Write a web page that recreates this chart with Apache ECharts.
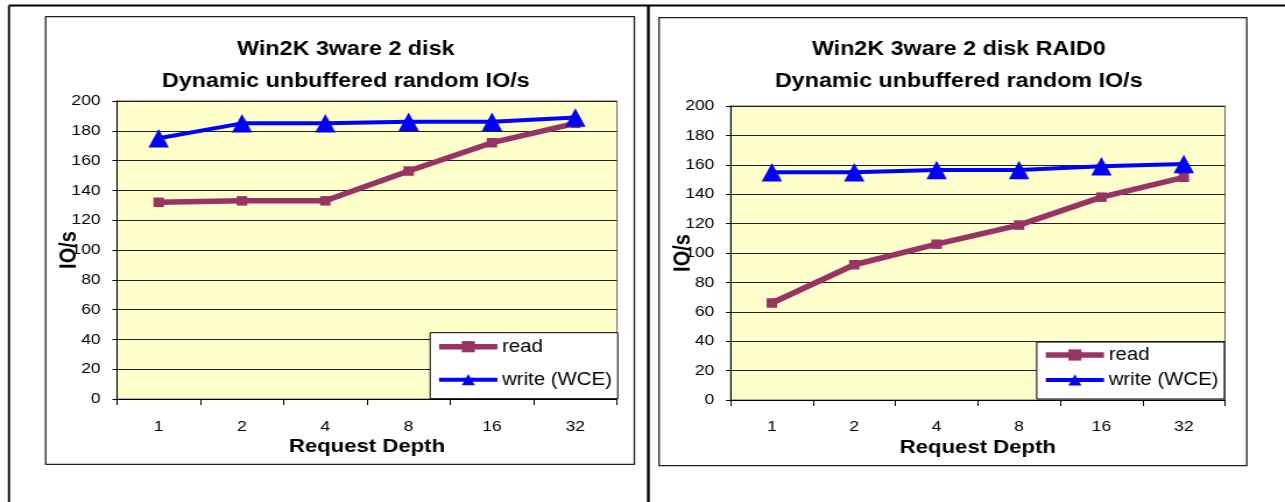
<!DOCTYPE html>
<html>
<head>
<meta charset="utf-8">
<script src="https://cdn.jsdelivr.net/npm/echarts@6/dist/echarts.min.js"></script>
<style>
html,body{margin:0;padding:0;background:#fff;overflow:hidden;}
#wrap{width:1285px;height:502px;overflow:hidden;position:relative;}
#chart{position:absolute;left:0;top:0;width:1103px;height:502px;transform:scaleX(1.165);transform-origin:0 0;}
</style>
</head>
<body>
<div id="wrap"><div id="chart"></div></div>
<script>
// ---- data ----
const categories = ['1', '2', '4', '8', '16', '32'];
const readA  = [132, 133, 133, 153, 172, 185];
const writeA = [175, 185, 185, 186, 186, 189];
const readB  = [66, 92, 106, 119, 138, 151.5];
const writeB = [155, 155, 156.5, 156.5, 159, 160.5];
const yTicks = [0, 200, 20]; // min, max, interval
const titleA = 'Win2K 3ware 2 disk\nDynamic unbuffered random IO/s';
const titleB = 'Win2K 3ware 2 disk RAID0\nDynamic unbuffered random IO/s';
const seriesNames = ['read', 'write (WCE)'];
const xName = 'Request Depth';
const yName = 'IO/s';

const FONT = 'Liberation Sans, Arial, sans-serif';
const READ_C = '#993366';
const WRITE_C = '#0000FF';

const chart = echarts.init(document.getElementById('chart'), null, {renderer: 'canvas'});

function xAxisCfg(gi) {
  return {
    type: 'category', gridIndex: gi, data: categories, boundaryGap: true,
    name: xName, nameLocation: 'middle', nameGap: 38, nameMoveOverlap: false,
    nameTextStyle: {fontFamily: FONT, fontSize: 19, fontWeight: 'bold', color: '#000'},
    axisLine: {show: true, lineStyle: {color: '#000', width: 1}},
    axisTick: {show: true, length: 6, lineStyle: {color: '#000'}},
    axisLabel: {fontFamily: FONT, fontSize: 15, color: '#000', margin: gi === 0 ? 20.5 : 19.5},
    splitLine: {show: false}
  };
}
function yAxisCfg(gi) {
  return {
    type: 'value', gridIndex: gi, min: yTicks[0], max: yTicks[1], interval: yTicks[2],
    name: yName, nameLocation: 'middle', nameGap: 31, nameRotate: 90, nameMoveOverlap: false,
    nameTextStyle: {fontFamily: FONT, fontSize: 20, fontWeight: 'bold', color: '#000'},
    axisLine: {show: true, lineStyle: {color: '#000', width: 1}},
    axisTick: {show: true, length: 4, lineStyle: {color: '#000'}},
    axisLabel: {fontFamily: FONT, fontSize: 15, color: '#000', margin: 14},
    splitLine: {show: true, lineStyle: {color: '#222', width: 1}}
  };
}
function readSeries(gi, data) {
  return {
    name: seriesNames[0], type: 'line', xAxisIndex: gi, yAxisIndex: gi, data: data,
    symbol: 'rect', symbolSize: [9, 9.5],
    lineStyle: {color: READ_C, width: 5.5}, itemStyle: {color: READ_C},
    z: 2, animation: false
  };
}
function writeSeries(gi, data) {
  return {
    name: seriesNames[1], type: 'line', xAxisIndex: gi, yAxisIndex: gi, data: data,
    symbol: 'triangle', symbolSize: [17.5, 18.5],
    lineStyle: {color: WRITE_C, width: 4}, itemStyle: {color: WRITE_C},
    z: 3, animation: false
  };
}
function legendCfg(left, top, gap, padding) {
  return {
    orient: 'vertical', left: left, top: top,
    data: [
      {name: seriesNames[0], lineStyle: {width: 5.5, color: READ_C}},
      {name: seriesNames[1], lineStyle: {width: 4, color: WRITE_C}}
    ],
    backgroundColor: '#fff', borderColor: '#000', borderWidth: 1,
    padding: padding, itemGap: gap, itemWidth: 50, itemHeight: 14,
    textStyle: {fontFamily: FONT, fontSize: 17.5, color: '#000', padding: [0, 0, 0, -1]},
    selectedMode: false
  };
}

const option = {
  animation: false,
  backgroundColor: '#fff',
  title: [
    {text: titleA, left: 291.85, top: 29, textAlign: 'center',
     textStyle: {fontFamily: FONT, fontSize: 20, fontWeight: 'bold', color: '#000', lineHeight: 31.4}},
    {text: titleB, left: 817.95, top: 29, textAlign: 'center',
     textStyle: {fontFamily: FONT, fontSize: 20, fontWeight: 'bold', color: '#000', lineHeight: 31.4}}
  ],
  grid: [
    {left: 100.4, top: 101, width: 429.2, height: 298, show: true, backgroundColor: '#FFFFCC', borderColor: '#666', borderWidth: 1},
    {left: 627.2, top: 106, width: 424.3, height: 294, show: true, backgroundColor: '#FFFFCC', borderColor: '#666', borderWidth: 1}
  ],
  xAxis: [xAxisCfg(0), xAxisCfg(1)],
  yAxis: [yAxisCfg(0), yAxisCfg(1)],
  legend: [
    legendCfg(369.2, 332.7, 15, [5, 5, 10, 5]),
    legendCfg(889.9, 342, 7, [4, 5, 10, 5])
  ],
  series: [readSeries(0, readA), writeSeries(0, writeA), readSeries(1, readB), writeSeries(1, writeB)],
  graphic: [
    {type: 'line', shape: {x1: 7.7, y1: 5.5, x2: 1103, y2: 5.5}, style: {stroke: '#000', lineWidth: 2.2}, silent: true},
    {type: 'line', shape: {x1: 7.7, y1: 5.5, x2: 7.7, y2: 502}, style: {stroke: '#000', lineWidth: 1.8}, silent: true},
    {type: 'line', shape: {x1: 556.5, y1: 5.5, x2: 556.5, y2: 502}, style: {stroke: '#000', lineWidth: 2.4}, silent: true},
    {type: 'rect', shape: {x: 39.2, y: 16.7, width: 505.3, height: 447.6}, style: {fill: 'none', stroke: '#222', lineWidth: 1.3}, silent: true, z: -10},
    {type: 'rect', shape: {x: 565.7, y: 17.7, width: 504.5, height: 448}, style: {fill: 'none', stroke: '#222', lineWidth: 1.3}, silent: true, z: -10}
  ]
};
chart.setOption(option);
</script>
</body>
</html>
